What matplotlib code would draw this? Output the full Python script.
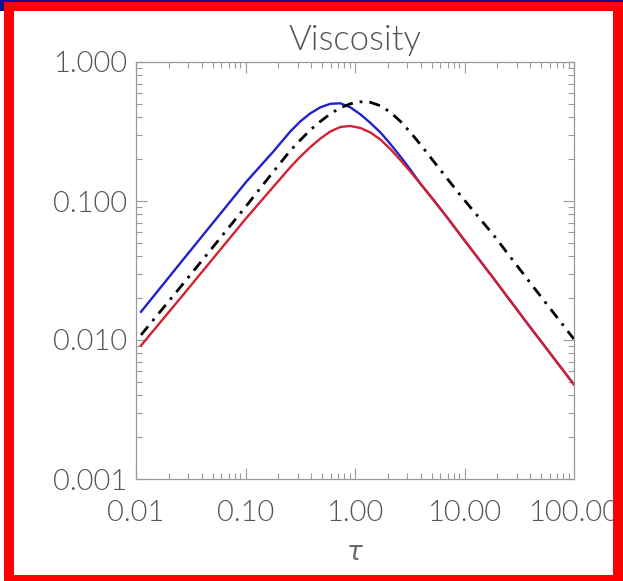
#!/usr/bin/env python3
"""
Viscosity vs tau, log-log, three curves (IDL-style look).
"""

import matplotlib
matplotlib.use('Agg')
import matplotlib.pyplot as plt
from matplotlib.patches import Rectangle
from matplotlib.ticker import FixedLocator, FixedFormatter, LogLocator, NullFormatter

# Values
tau = [0.01111, 0.02749, 0.1015, 0.1792, 0.2564, 0.3166, 0.3908, 0.4826, 0.5955, 0.7352,
       0.9077, 1.1204, 1.3833, 1.7078, 2.1085, 2.6031, 3.2137, 3.967, 5.216, 6.859,
       9.21, 18.46, 37.78, 99.6]

visc_blue = [0.01595, 0.03864, 0.1373, 0.2265, 0.3162, 0.3737, 0.4270, 0.4719, 0.5004, 0.5046,
             0.4719, 0.4200, 0.3644, 0.3111, 0.2566, 0.2084, 0.1677, 0.1328, 0.1017, 0.07715,
             0.05671, 0.02767, 0.01305, 0.0048]

visc_red = [0.009123, 0.02154, 0.07524, 0.1263, 0.1749, 0.2084, 0.2441, 0.2813, 0.3162, 0.3408,
            0.3466, 0.3352, 0.3111, 0.2767, 0.2361, 0.1966, 0.1622, 0.1328, 0.1017, 0.07715,
            0.05671, 0.02767, 0.01305, 0.0048]

visc_black = [0.01087, 0.02588, 0.0920, 0.1622, 0.2303, 0.2744, 0.3243, 0.3737, 0.4234, 0.4680,
              0.5004, 0.5174, 0.5130, 0.4840, 0.4342, 0.3737, 0.3111, 0.2545, 0.1932, 0.1468,
              0.1096, 0.05671, 0.02721, 0.01017]

x_ticks = [0.01, 0.1, 1.0, 10.0, 100.0]
x_labels = ['0.01', '0.10', '1.00', '10.00', '100.00']
y_ticks = [0.001, 0.01, 0.1, 1.0]
y_labels = ['0.001', '0.010', '0.100', '1.000']

text_color = '#555555'
axis_color = '#9a9a9a'

plt.rcParams['font.family'] = ['Lato', 'DejaVu Sans']
plt.rcParams['font.weight'] = 300
plt.rcParams['axes.titleweight'] = 300

fig = plt.figure(figsize=(6.23, 5.81), dpi=100)
fig.patch.set_facecolor('white')

# frame around the picture (red border, dark blue strip at the very top)
fig.patches.append(Rectangle((0, 579 / 581), 1, 2 / 581, transform=fig.transFigure,
                             facecolor='#10108a', edgecolor='none', zorder=0))
fig.patches.append(Rectangle((0, 570 / 581), 4 / 623, 11 / 581, transform=fig.transFigure,
                             facecolor='#10108a', edgecolor='none', zorder=0))
for (x0, y0, w, h) in [(4, 570, 619, 9), (4, 0, 10, 579), (613, 0, 10, 579), (4, 0, 619, 6)]:
    fig.patches.append(Rectangle((x0 / 623, y0 / 581), w / 623, h / 581,
                                 transform=fig.transFigure, facecolor='#ff0000',
                                 edgecolor='none', zorder=0))

ax = fig.add_axes([136 / 623, 1 - 479 / 581, 438 / 623, 417 / 581])

ax.plot(tau, visc_blue, color='#2020d0', lw=1.7, solid_joinstyle='round')
ax.plot(tau, visc_black, color='black', lw=2.0, dashes=(4, 2.5, 1, 2.5))
ax.plot(tau, visc_red, color='#d42030', lw=1.7, solid_joinstyle='round')

ax.set_xscale('log')
ax.set_yscale('log')
ax.set_xlim(0.01, 100)
ax.set_ylim(0.001, 1.0)

ax.xaxis.set_major_locator(FixedLocator(x_ticks))
ax.xaxis.set_major_formatter(FixedFormatter(x_labels))
ax.yaxis.set_major_locator(FixedLocator(y_ticks))
ax.yaxis.set_major_formatter(FixedFormatter(y_labels))
for axis in (ax.xaxis, ax.yaxis):
    axis.set_minor_locator(LogLocator(base=10, subs=range(2, 10), numticks=20))
    axis.set_minor_formatter(NullFormatter())

ax.tick_params(which='both', direction='in', top=True, right=True,
               color=axis_color, width=0.8)
ax.tick_params(which='major', length=8, labelsize=21, labelcolor=text_color)
ax.tick_params(axis='x', which='major', pad=15)
ax.tick_params(axis='y', which='major', pad=6)
ax.tick_params(which='minor', length=4)
for sp in ax.spines.values():
    sp.set_color(axis_color)
    sp.set_linewidth(0.9)

ax.set_title('Viscosity', fontsize=25, color=text_color, pad=9)
ax.set_xlabel(r'$\tau$', fontsize=19, color='#6a6a6a', labelpad=10)

plt.savefig('out.png', dpi=100)
